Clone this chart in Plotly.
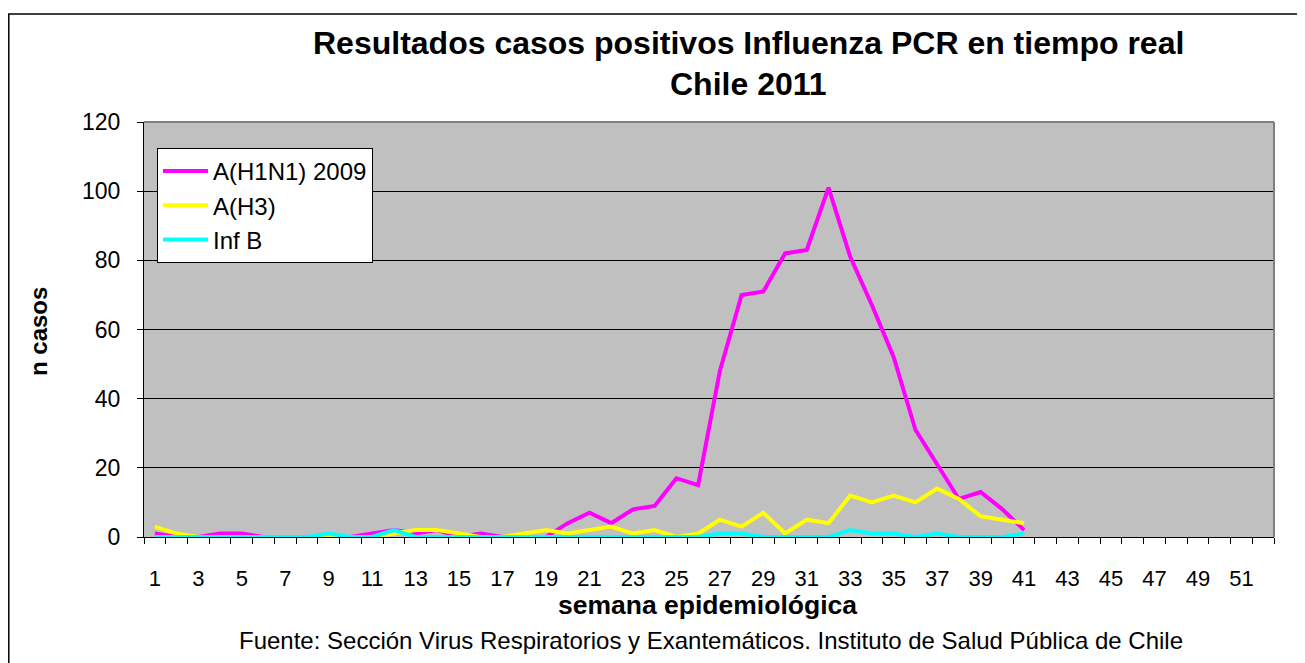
import plotly.graph_objects as go

weeks = list(range(1, 42))
h1n1 = [1, 0, 0, 1, 1, 0, 0, 0, 0, 0,
        1, 2, 1, 2, 0, 1, 0, 0, 0, 4,
        7, 4, 8, 9, 17, 15, 48, 70, 71, 82,
        83, 101, 81, 67, 52, 31, 21, 11, 13, 8, 2]
h3 = [3, 1, 0, 0, 0, 0, 0, 0, 0, 0,
      0, 1, 2, 2, 1, 0, 0, 1, 2, 1,
      2, 3, 1, 2, 0, 1, 5, 3, 7, 1,
      5, 4, 12, 10, 12, 10, 14, 11, 6, 5, 4]
infb = [0, 0, 0, 0, 0, 0, 0, 0, 1, 0,
        0, 2, 0, 0, 0, 0, 0, 0, 0, 0,
        0, 0, 0, 0, 0, 0, 1, 1, 0, 0,
        0, 0, 2, 1, 1, 0, 1, 0, 0, 0, 1]
series_names = ["A(H1N1) 2009", "A(H3)", "Inf B"]
series_colors = ["#FF00FF", "#FFFF00", "#00FFFF"]
x_tick_labels = list(range(1, 53, 2))
y_ticks = [0, 20, 40, 60, 80, 100, 120]

FONT = "Liberation Sans, Arial, sans-serif"

fig = go.Figure()
for name, vals, col in zip(series_names, [h1n1, h3, infb], series_colors):
    fig.add_trace(go.Scatter(x=weeks, y=vals, mode="lines", name=name,
                             line=dict(color=col, width=4)))

OFF = 8  # page body margin
W, H = 1305 - OFF, 663 - OFF
L, R, T, B = 144 - OFF, 1274 - OFF, 122 - OFF, 537 - OFF
pw, ph = R - L, B - T

def px(xp):
    return (xp - OFF - L) / pw

def py(yp):
    return (B - (yp - OFF)) / ph

fig.update_layout(
    width=W, height=H, autosize=False,
    margin=dict(l=L, r=W - R, t=T, b=H - B),
    paper_bgcolor="white", plot_bgcolor="#C0C0C0",
    font=dict(family=FONT, color="black", size=22),
    showlegend=True,
    legend=dict(x=px(157), y=py(148), xanchor="left", yanchor="top",
                bgcolor="white", bordercolor="black", borderwidth=1,
                font=dict(size=24, family=FONT), tracegroupgap=0,
                itemwidth=45),
    xaxis=dict(range=[0.5, 52.5], tickmode="array", tickvals=x_tick_labels,
               ticktext=[str(v) for v in x_tick_labels], ticks="",
               showgrid=False, zeroline=False, showline=True,
               linecolor="black", linewidth=1,
               tickfont=dict(size=22), ticklabelstandoff=22,
               minor=dict(tickmode="linear", tick0=0.5, dtick=1,
                          ticks="outside", ticklen=6, tickcolor="black",
                          tickwidth=1, showgrid=False)),
    yaxis=dict(range=[0, 120], tickvals=y_ticks, ticks="outside",
               ticklen=6, tickcolor="black", showgrid=True,
               gridcolor="black", gridwidth=1, zeroline=False,
               showline=True, linecolor="black", linewidth=1,
               tickfont=dict(size=23), ticklabelstandoff=12),
)

# plot area top/right border (gray)
fig.add_shape(type="line", xref="paper", yref="paper", x0=0, x1=1, y0=1, y1=1,
              line=dict(color="#808080", width=2), layer="above")
fig.add_shape(type="line", xref="paper", yref="paper", x0=1, x1=1, y0=0, y1=1,
              line=dict(color="#808080", width=2), layer="above")
# outer chart border
fig.add_shape(type="rect", xref="paper", yref="paper",
              x0=px(8.8), x1=px(1330), y0=py(690), y1=py(14),
              line=dict(color="black", width=1.5), layer="above")

fig.add_annotation(text="<b>Resultados casos positivos Influenza PCR en tiempo real</b>",
                   xref="paper", yref="paper", x=px(748), y=py(43),
                   showarrow=False, font=dict(size=32, family=FONT),
                   xanchor="center", yanchor="middle")
fig.add_annotation(text="<b>Chile 2011</b>",
                   xref="paper", yref="paper", x=px(748), y=py(84),
                   showarrow=False, font=dict(size=32, family=FONT),
                   xanchor="center", yanchor="middle")
fig.add_annotation(text="<b>semana epidemiológica</b>",
                   xref="paper", yref="paper", x=px(707), y=py(605),
                   showarrow=False, font=dict(size=26.5, family=FONT),
                   xanchor="center", yanchor="middle")
fig.add_annotation(text="Fuente: Sección Virus Respiratorios y Exantemáticos. Instituto de Salud Pública de Chile",
                   xref="paper", yref="paper", x=px(711), y=py(640),
                   showarrow=False, font=dict(size=24, family=FONT),
                   xanchor="center", yanchor="middle")
fig.add_annotation(text="<b>n casos</b>",
                   xref="paper", yref="paper", x=px(38), y=py(332),
                   showarrow=False, font=dict(size=24, family=FONT),
                   textangle=-90, xanchor="center", yanchor="middle")

fig.write_html("out.html")
